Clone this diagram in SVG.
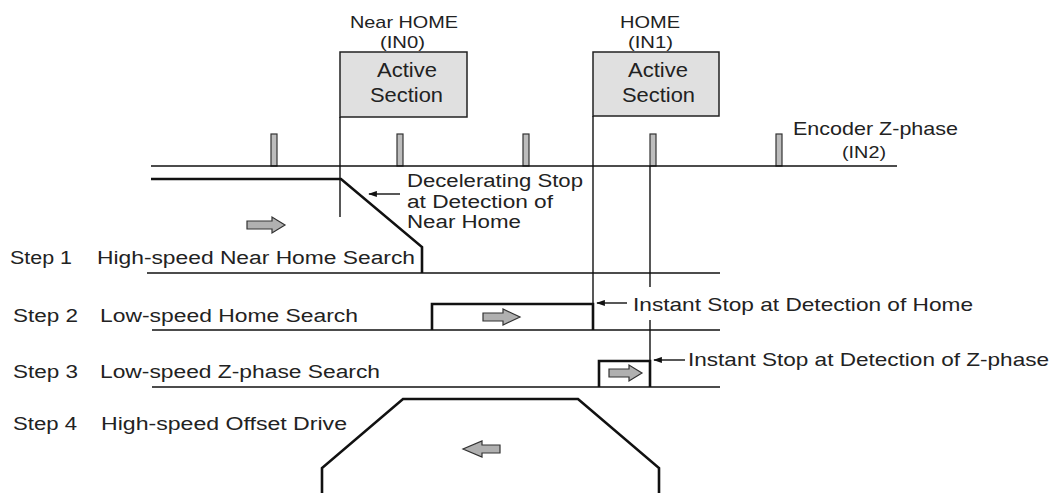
<svg xmlns="http://www.w3.org/2000/svg" width="1056" height="493" viewBox="0 0 1056 493">
<style>
text{font-family:"Liberation Sans",Arial,sans-serif;fill:#222}
.t16{font-size:17px}
.t17{font-size:18px}
.t18{font-size:19px}
.t20{font-size:21px}
.thin{stroke:#111;stroke-width:1.4;fill:none}
.thick{stroke:#111;stroke-width:2.6;fill:none;stroke-linejoin:miter}
.box{fill:#e0e0e0;stroke:#222;stroke-width:1.5}
.tick{fill:#bdbdbd;stroke:#333;stroke-width:1.2}
.garrow{fill:#b0b0b0;stroke:#333;stroke-width:1.2;stroke-linejoin:miter}
</style>
<defs>
<marker id="ah" viewBox="0 0 10 8" refX="9" refY="4" markerWidth="10" markerHeight="7" markerUnits="userSpaceOnUse" orient="auto">
<path d="M10,4 L0,0.5 L0,7.5 Z" fill="#111"/>
</marker>
</defs>
<rect width="1056" height="493" fill="#fff"/>

<g id="near-home">
<text class="t16" x="350" y="28" textLength="108" lengthAdjust="spacingAndGlyphs">Near HOME</text>
<text class="t16" x="380" y="48" textLength="45" lengthAdjust="spacingAndGlyphs">(IN0)</text>
<rect class="box" x="340" y="52" width="127" height="65"/>
<text class="t20" x="377" y="77" textLength="60" lengthAdjust="spacingAndGlyphs">Active</text>
<text class="t20" x="370" y="102" textLength="73" lengthAdjust="spacingAndGlyphs">Section</text>
</g>

<g id="home">
<text class="t16" x="620" y="28" textLength="60" lengthAdjust="spacingAndGlyphs">HOME</text>
<text class="t16" x="628" y="48" textLength="45" lengthAdjust="spacingAndGlyphs">(IN1)</text>
<rect class="box" x="593" y="52" width="126" height="64"/>
<text class="t20" x="628" y="77" textLength="60" lengthAdjust="spacingAndGlyphs">Active</text>
<text class="t20" x="622" y="102" textLength="73" lengthAdjust="spacingAndGlyphs">Section</text>
</g>

<g id="encoder">
<rect class="tick" x="271" y="134" width="6" height="32"/>
<rect class="tick" x="397" y="134" width="6" height="32"/>
<rect class="tick" x="523" y="134" width="6" height="32"/>
<rect class="tick" x="650" y="134" width="6" height="32"/>
<rect class="tick" x="776" y="134" width="6" height="32"/>
<text class="t18" x="793" y="135" textLength="165" lengthAdjust="spacingAndGlyphs">Encoder Z-phase</text>
<text class="t16" x="842" y="158" textLength="44" lengthAdjust="spacingAndGlyphs">(IN2)</text>
</g>

<g id="connectors">
<line class="thin" x1="151" y1="166" x2="897" y2="166"/>
<line class="thin" x1="340" y1="117" x2="340" y2="217"/>
<line class="thin" x1="593" y1="116" x2="593" y2="330"/>
<line class="thin" x1="650" y1="166" x2="650" y2="287"/>
<line class="thin" x1="650" y1="320" x2="650" y2="387"/>
<line class="thin" x1="147" y1="273" x2="720" y2="273"/>
<line class="thin" x1="152" y1="330" x2="720" y2="330"/>
<line class="thin" x1="152" y1="387" x2="720" y2="387"/>
<line class="thin" x1="400" y1="194" x2="369" y2="194" marker-end="url(#ah)"/>
<line class="thin" x1="627" y1="303" x2="597" y2="303" marker-end="url(#ah)"/>
<line class="thin" x1="685" y1="360" x2="654" y2="360" marker-end="url(#ah)"/>
</g>

<g id="step1">
<polyline class="thick" points="151,179 341,179 422,247 422,273"/>
<path class="garrow" d="M247,221 H272 V217 L285,225 L272,233 V229 H247 Z"/>
<text class="t17" x="407" y="187" textLength="176" lengthAdjust="spacingAndGlyphs">Decelerating Stop</text>
<text class="t17" x="407" y="208" textLength="146" lengthAdjust="spacingAndGlyphs">at Detection of</text>
<text class="t17" x="407" y="228" textLength="114" lengthAdjust="spacingAndGlyphs">Near Home</text>
<text class="t17" x="10" y="264" textLength="62" lengthAdjust="spacingAndGlyphs">Step 1</text>
<text class="t17" x="97" y="264" textLength="318" lengthAdjust="spacingAndGlyphs">High-speed Near Home Search</text>
</g>

<g id="step2">
<polyline class="thick" points="432,330 432,304 593,304 593,330"/>
<path class="garrow" d="M483,313 H503 V309 L520,317 L503,325 V321 H483 Z"/>
<text class="t17" x="13" y="322" textLength="65" lengthAdjust="spacingAndGlyphs">Step 2</text>
<text class="t17" x="100" y="322" textLength="258" lengthAdjust="spacingAndGlyphs">Low-speed Home Search</text>
<text class="t18" x="633" y="311" textLength="340" lengthAdjust="spacingAndGlyphs">Instant Stop at Detection of Home</text>
</g>

<g id="step3">
<polyline class="thick" points="599,387 599,361 650,361 650,387"/>
<path class="garrow" d="M609,369 H629 V365 L642,373 L629,381 V377 H609 Z"/>
<text class="t17" x="13" y="378" textLength="65" lengthAdjust="spacingAndGlyphs">Step 3</text>
<text class="t17" x="100" y="378" textLength="280" lengthAdjust="spacingAndGlyphs">Low-speed Z-phase Search</text>
<text class="t18" x="688" y="366" textLength="361" lengthAdjust="spacingAndGlyphs">Instant Stop at Detection of Z-phase</text>
</g>

<g id="step4">
<polyline class="thick" points="322,493 322,468 403,399 578,399 659,468 659,493"/>
<path class="garrow" d="M500,445 H482 V441 L463,449 L482,457 V453 H500 Z"/>
<text class="t17" x="13" y="430" textLength="64" lengthAdjust="spacingAndGlyphs">Step 4</text>
<text class="t17" x="101" y="430" textLength="246" lengthAdjust="spacingAndGlyphs">High-speed Offset Drive</text>
</g>
</svg>
